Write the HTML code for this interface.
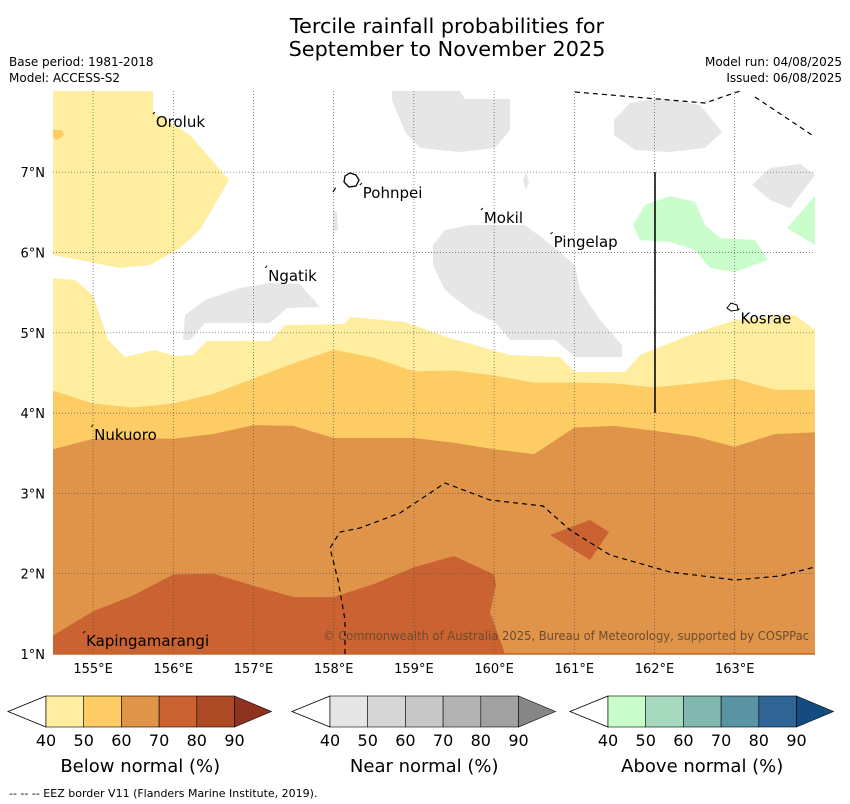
<!DOCTYPE html>
<html><head><meta charset="utf-8"><style>
body{margin:0;background:#fff;width:850px;height:804px;overflow:hidden;font-family:"Liberation Sans","DejaVu Sans",sans-serif}
svg{position:absolute;left:0;top:0}
</style></head><body>
<svg id="chart" width="850" height="804" xmlns="http://www.w3.org/2000/svg" font-family="DejaVu Sans, Liberation Sans, sans-serif"></svg>
<script>
// ---- data (pixel-free: lon/lat) ----
const lonTicks=[155,156,157,158,159,160,161,162,163];
const latTicks=[1,2,3,4,5,6,7];
const sampleLons=[154.5,155,155.5,156,156.5,157,157.5,158,158.5,159,159.5,160,160.5,161,161.5,162,162.5,163,163.5,164];
const band60Top=[3.55,3.68,3.69,3.68,3.74,3.85,3.84,3.69,3.69,3.69,3.63,3.55,3.49,3.82,3.84,3.78,3.71,3.58,3.74,3.76];
const band50Top=[4.28,4.12,4.07,4.12,4.24,4.43,4.62,4.79,4.69,4.52,4.53,4.47,4.38,4.38,4.37,4.32,4.37,4.43,4.29,4.29];
const band70Top=[1.23,1.53,1.73,1.99,2.0,1.85,1.71,1.71,1.87,2.08,2.22,1.99];
const kapLabels=["Oroluk","Pohnpei","Mokil","Pingelap","Ngatik","Kosrae","Nukuoro","Kapingamarangi"];
const labelLon=[155.77,158.35,159.86,160.73,157.17,163.06,155.0,154.9];
const labelLat=[7.575,6.69,6.38,6.08,5.66,5.13,3.68,1.11];
const belowColors=["#ffeda0","#fecc65","#e0944a","#cb6231","#ad4b27","#8f321f"];
const nearColors=["#e6e6e6","#d6d6d6","#c7c7c7","#b3b3b3","#a1a1a1","#868686"];
const aboveColors=["#c9fdcb","#a6d9bd","#82b7b0","#5a93a1","#2f6494","#134c80"];
const cbTicks=["40","50","60","70","80","90"];
// ---- projection ----
const X=lon=>53+(lon-154.5)*80.2;
const Y=lat=>654-(lat-1)*80.3;
const svg=document.getElementById('chart');
const NS="http://www.w3.org/2000/svg";
function mk(tag,attrs,parent){const e=document.createElementNS(NS,tag);for(const k in attrs)e.setAttribute(k,attrs[k]);(parent||svg).appendChild(e);return e;}
function poly(ptsLL,fill,name){const d=ptsLL.map(p=>X(p[0]).toFixed(1)+","+Y(p[1]).toFixed(1)).join(" ");const e=mk('polygon',{points:d,fill:fill});

return e;}
const P=(x,y)=>[154.5+(x-53)/80.2,1+(654-y)/80.3];
function shape(arr){const o=[];for(let i=0;i<arr.length;i+=2)o.push(P(arr[i],arr[i+1]));return o;}
poly(shape([53,91,153,91,153,112,190,135,229,180,200,230,180,248,150,265,120,268,90,262,53,255]),belowColors[0],'yellow-upper-left');
poly(shape([53,130,62,130,64,135,57,140,53,137]),belowColors[1],'orange-spot');
poly(shape([53,278,75,280,93,295,108,340,125,357,155,350,175,356,193,355,207,341,270,341,285,325,345,324,350,317,405,322,450,338,510,355,560,357,575,372,625,372,640,355,690,335,735,320,795,315,815,330,815,654,53,654]),belowColors[0],'below-40-50-region');
function bandPoly(tops,fill,name){const pts=sampleLons.map((l,i)=>[l,tops[i]]);pts.push([164,1],[154.5,1]);return poly(pts,fill,name);}
bandPoly(band50Top,belowColors[1],'below-50-60-region');
bandPoly(band60Top,belowColors[2],'below-60-70-region');
{const pts=band70Top.map((v,i)=>[sampleLons[i],v]);pts.push(P(496,585),P(490,612),P(505,654),P(53,654));poly(pts,belowColors[3],'below-70-80-region');}
poly(shape([550,535,590,520,609,532,590,560]),belowColors[3],'below-70-80-patch');
poly(shape([392,91,460,91,465,99,510,99,510,130,495,148,460,152,420,148,405,132,392,100]),nearColors[0],'near-region-a');
poly(shape([433,245,445,230,470,225,525,225,545,240,575,265,580,290,600,320,622,345,622,357,575,357,555,340,510,340,495,322,470,310,445,290,433,265]),nearColors[0],'near-region-b');
poly(shape([183,340,185,315,205,300,240,288,270,283,300,284,320,307,287,308,270,323,205,323,190,340]),nearColors[0],'near-region-c');
poly(shape([614,120,630,103,660,98,700,105,722,132,705,148,670,152,635,150,614,135]),nearColors[0],'near-region-d');
poly(shape([752,185,770,168,800,164,815,175,790,208,770,200]),nearColors[0],'near-region-e');
poly(shape([523,180,526,172,529,182,526,190]),nearColors[0],'near-region-f');
poly(shape([333,210,337,212,338,230,333,232]),nearColors[0],'near-region-g');
poly(shape([633,225,645,205,670,196,695,202,705,225,720,238,755,240,768,260,735,272,710,268,695,250,670,242,640,240]),aboveColors[0],'above-region-a');
poly(shape([787,228,815,196,815,245]),aboveColors[0],'above-region-b');
lonTicks.forEach(l=>{const e=mk('line',{x1:X(l),x2:X(l),y1:91,y2:654,stroke:'#555','stroke-width':0.7,'stroke-dasharray':'1,2'});


const t=mk('text',{x:X(l),y:673,'font-size':13,'text-anchor':'middle',fill:'#000'});t.textContent=l+'°E';

});
latTicks.forEach(l=>{if(l>1){const e=mk('line',{x1:53,x2:815,y1:Y(l),y2:Y(l),stroke:'#555','stroke-width':0.7,'stroke-dasharray':'1,2'});

}
const t=mk('text',{x:45,y:Y(l)+5,'font-size':13,'text-anchor':'end',fill:'#000'});t.textContent=l+'°N';

});
mk('line',{x1:53,x2:815,y1:654,y2:654,stroke:'#c0692e','stroke-width':1.5});
function dashed(arr,name){const d=[];for(let i=0;i<arr.length;i+=2){const p=P(arr[i],arr[i+1]);d.push(X(p[0]).toFixed(1)+","+Y(p[1]).toFixed(1));}
const e=mk('polyline',{points:d.join(" "),fill:'none',stroke:'#000','stroke-width':1.2,'stroke-dasharray':'5,4'});

}
dashed([575,92,705,103,740,91],'eez-border-top');
dashed([755,97,812,135],'eez-border-top-right');
dashed([345,654,345,620,338,580,330,548,340,532,360,528,400,513,445,483,490,500,543,506,570,530,610,555,670,572,735,580,780,576,815,567],'eez-border-south');
dashed([333,192,336,187],'eez-border-pohnpei');
mk('line',{x1:655,x2:655,y1:172,y2:413,stroke:'#000','stroke-width':1.5});
mk('path',{d:'M345,176 L350,173 L356,175 L359,180 L356,186 L349,187 L344,182 Z',fill:'#fff',stroke:'#000','stroke-width':1.3});
mk('path',{d:'M727,308 L731,303 L737,305 L738,310 L731,311 Z',fill:'#fff',stroke:'#000','stroke-width':1});
kapLabels.forEach((n,i)=>{const x=X(labelLon[i]),y=Y(labelLat[i]);
mk('line',{x1:x-2,y1:y-12,x2:x,y2:y-14,stroke:'#000','stroke-width':1});
const t=mk('text',{x:x+1,y:y+1,'font-size':15,fill:'#000'});t.textContent=n;

});
const cr=mk('text',{x:323,y:640,'font-size':12,fill:'#6b4c2e',textLength:486,lengthAdjust:'spacingAndGlyphs'});cr.textContent='© Commonwealth of Australia 2025, Bureau of Meteorology, supported by COSPPac';


function txt(s,x,y,size,anchor,name){const t=mk('text',{x:x,y:y,'font-size':size,'text-anchor':anchor||'start',fill:'#000'});t.textContent=s;

return t;}
txt('Tercile rainfall probabilities for',447,33,20.8,'middle','chart-title');
txt('September to November 2025',447,56,20.8,'middle','chart-subtitle');
txt('Base period: 1981-2018',9,66,12,'start','base-period');
txt('Model: ACCESS-S2',9,82,12,'start','model-name');
txt('Model run: 04/08/2025',842,66,12,'end','model-run');
txt('Issued: 06/08/2025',842,82,12,'end','issued-date');
function colorbar(x0,cols,title,name){const w=37.7,y0=696,h=31;
mk('polygon',{points:`${x0-38},${y0+h/2} ${x0},${y0} ${x0},${y0+h}`,fill:'#fff',stroke:'#000','stroke-width':0.8});
for(let i=0;i<5;i++){const r=mk('rect',{x:x0+i*w,y:y0,width:w,height:h,fill:cols[i],stroke:'#000','stroke-width':0.6});

}
mk('polygon',{points:`${x0+5*w},${y0} ${x0+5*w+37},${y0+h/2} ${x0+5*w},${y0+h}`,fill:cols[5],stroke:'#000','stroke-width':0.6});
cbTicks.forEach((s,i)=>txt(s,x0+i*w,746,16,'middle',name+'-tick'));
txt(title,x0+2.5*w,772,18,'middle',name+'-title');}
colorbar(46,belowColors,'Below normal (%)','below-colorbar');
colorbar(330,nearColors,'Near normal (%)','near-colorbar');
colorbar(608,aboveColors,'Above normal (%)','above-colorbar');
txt('--  --  -- EEZ border V11 (Flanders Marine Institute, 2019).',9,797,11,'start','eez-footnote');
</script>
</body></html>
